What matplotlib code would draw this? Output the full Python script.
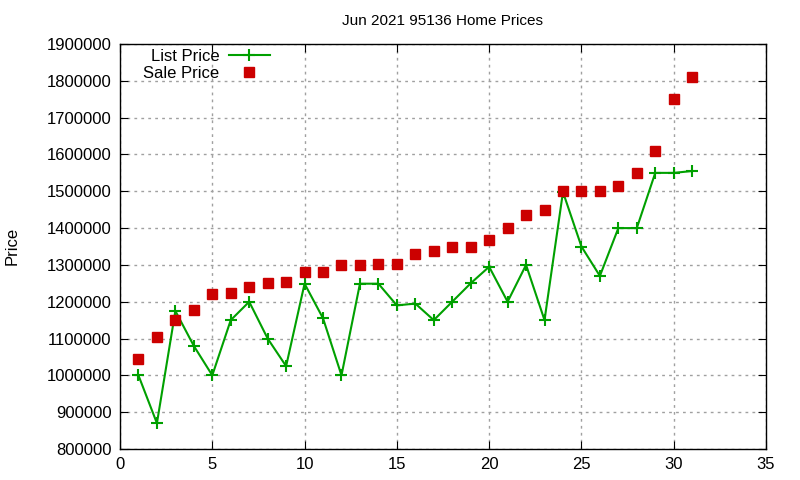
import matplotlib
matplotlib.use("Agg")
import matplotlib.pyplot as plt
from matplotlib.ticker import MultipleLocator, FormatStrFormatter

plt.rcParams["font.family"] = ["Liberation Sans", "DejaVu Sans"]

# day of month
days = list(range(1, 32))
list_price = [1000000, 870000, 1175000, 1080000, 1000000, 1150000, 1200000, 1100000,
              1025000, 1249000, 1155000, 1000000, 1249000, 1249000, 1190000, 1195000,
              1150000, 1200000, 1250000, 1295000, 1200000, 1300000, 1150000, 1498000,
              1350000, 1270000, 1400000, 1400000, 1550000, 1550000, 1555000]
sale_price = [1045000, 1105000, 1150000, 1178000, 1220000, 1225000, 1240000, 1250000,
              1254000, 1280000, 1280000, 1300000, 1300000, 1303000, 1303000, 1330000,
              1338000, 1349000, 1350000, 1368000, 1400000, 1435000, 1450000, 1500000,
              1500000, 1500000, 1515000, 1550000, 1610000, 1750000, 1810000]

fig = plt.figure(figsize=(8, 4.8), dpi=100)
ax = fig.add_axes([0.15, 0.0646, 0.8075, 0.8437])

ax.plot(days, list_price, color="#00a000", lw=1.5, marker="+", ms=9, mew=1.5,
        label="List Price")
ax.plot(days, sale_price, ls="none", color="#cc0000", marker="s", ms=6.5,
        label="Sale Price")

ax.set_xlim(0, 35)
ax.set_ylim(800000, 1900000)
ax.xaxis.set_major_locator(MultipleLocator(5))
ax.yaxis.set_major_locator(MultipleLocator(100000))
ax.yaxis.set_major_formatter(FormatStrFormatter("%d"))
ax.tick_params(direction="in", top=True, right=True, length=6, labelsize=12,
               pad=6)
ax.grid(True, color="#a0a0a0", ls=(0, (2, 3)), lw=1)
for s in ax.spines.values():
    s.set_linewidth(1)

ax.set_title("Jun 2021 95136 Home Prices", fontsize=11, pad=14)
fig.text(12 / 800, 1 - 246 / 480, "Price", rotation=90, fontsize=12,
         ha="center", va="center")

ax.legend(loc="upper left", bbox_to_anchor=(0.0155, 1.02), frameon=False,
          markerfirst=False, fontsize=12, handlelength=2.5, handletextpad=0.55,
          borderpad=0.3, labelspacing=0.08)

fig.savefig("out.png", dpi=100)
